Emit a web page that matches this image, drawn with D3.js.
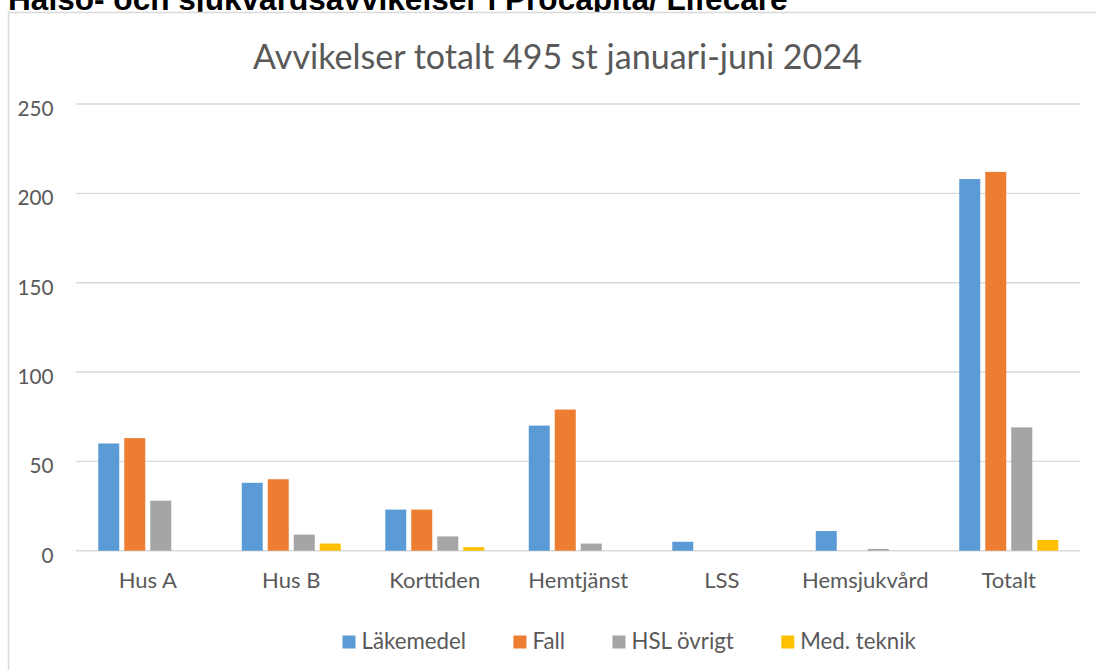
<!DOCTYPE html>
<html>
<head>
<meta charset="utf-8">
<script src="https://cdn.jsdelivr.net/npm/d3@7"></script>
<style>
  html, body { margin: 0; padding: 0; background: #ffffff; }
  svg { display: block; }
</style>
</head>
<body>
<svg id="chart" width="1096" height="670"></svg>
<script>
// ---- Data ----
const categories = ["Hus A", "Hus B", "Korttiden", "Hemtjänst", "LSS", "Hemsjukvård", "Totalt"];
const seriesNames = ["Läkemedel", "Fall", "HSL övrigt", "Med. teknik"];
const lakemedel = [60, 38, 23, 70, 5, 11, 208];
const fall = [63, 40, 23, 79, 0, 0, 212];
const hslOvrigt = [28, 9, 8, 4, 0, 1, 69];
const medTeknik = [0, 4, 2, 0, 0, 0, 6];
const yTicks = [0, 50, 100, 150, 200, 250];
const pageTitle = "Hälso- och sjukvårdsavvikelser i Procapita/ Lifecare";
const chartTitle = "Avvikelser totalt 495 st januari-juni 2024";

const seriesValues = [lakemedel, fall, hslOvrigt, medTeknik];
const colors = ["#5b9bd5", "#ed7d31", "#a5a5a5", "#ffc000"];

const svg = d3.select("#chart");
const FONT = "Lato, 'Open Sans', sans-serif";
const TEXT_COLOR = "#595959";
const GRID_COLOR = "#d9d9d9";

function fitSize(text, family, weight, targetWidth) {
  const t = svg.append("text")
    .attr("font-family", family)
    .attr("font-weight", weight)
    .attr("font-size", 100)
    .text(text);
  const w = t.node().getComputedTextLength();
  t.remove();
  return 100 * targetWidth / w;
}

// Page title (partly hidden behind the chart box)
const ptSize = fitSize(pageTitle, "'Liberation Sans', Arial, sans-serif", "bold", 780);
svg.append("text")
  .attr("x", 8)
  .attr("y", 9.5)
  .attr("font-family", "'Liberation Sans', Arial, sans-serif")
  .attr("font-weight", "bold")
  .attr("font-size", ptSize)
  .attr("fill", "#000")
  .text(pageTitle);

// Chart box
svg.append("rect")
  .attr("x", 8.5).attr("y", 12.5)
  .attr("width", 1200).attr("height", 700)
  .attr("fill", "#ffffff")
  .attr("stroke", GRID_COLOR)
  .attr("stroke-width", 1.5);

// Chart title
const ctSize = fitSize(chartTitle, FONT, "normal", 609);
svg.append("text")
  .attr("x", 557.5)
  .attr("y", 68.5)
  .attr("text-anchor", "middle")
  .attr("font-family", FONT)
  .attr("font-size", ctSize)
  .attr("fill", TEXT_COLOR)
  .text(chartTitle);

// Scales
const plotLeft = 76, plotRight = 1080.5;
const y = d3.scaleLinear().domain([0, 250]).range([550.7, 104]);
const x0 = d3.scaleBand().domain(categories).range([plotLeft, plotRight]).paddingInner(0).paddingOuter(0);
const groupWidth = 99;
const x1 = d3.scaleBand().domain(seriesNames).range([0, groupWidth]).paddingInner(5 / 26).paddingOuter(0);
const groupOffset = (x0.bandwidth() - groupWidth) / 2;

// Gridlines
const grid = svg.append("g");
grid.selectAll("line")
  .data(yTicks)
  .join("line")
  .attr("x1", plotLeft).attr("x2", plotRight)
  .attr("y1", d => y(d)).attr("y2", d => y(d))
  .attr("stroke", GRID_COLOR)
  .attr("stroke-width", 1.4);

// Y tick labels
const tickSize = fitSize("250", FONT, "normal", 36);
svg.append("g").selectAll("text")
  .data(yTicks)
  .join("text")
  .attr("x", 53.5)
  .attr("y", d => y(d) + 12)
  .attr("text-anchor", "end")
  .attr("font-family", FONT)
  .attr("font-size", tickSize)
  .attr("fill", TEXT_COLOR)
  .text(d => d);

// Bars
const rows = [];
categories.forEach((c, ci) => {
  seriesNames.forEach((s, si) => {
    rows.push({ cat: c, series: s, value: seriesValues[si][ci], color: colors[si] });
  });
});
svg.append("g").selectAll("rect")
  .data(rows.filter(d => d.value > 0))
  .join("rect")
  .attr("x", d => x0(d.cat) + groupOffset + x1(d.series))
  .attr("width", x1.bandwidth())
  .attr("y", d => y(d.value))
  .attr("height", d => y(0) - y(d.value))
  .attr("fill", d => d.color);

// Category labels
const catSize = fitSize("Korttiden", FONT, "normal", 91);
svg.append("g").selectAll("text")
  .data(categories)
  .join("text")
  .attr("x", d => x0(d) + x0.bandwidth() / 2)
  .attr("y", 588)
  .attr("text-anchor", "middle")
  .attr("font-family", FONT)
  .attr("font-size", catSize)
  .attr("fill", TEXT_COLOR)
  .text(d => d);

// Legend
const legSize = fitSize("Läkemedel", FONT, "normal", 104.5);
const legend = svg.append("g");
let lx = 342.5;
seriesNames.forEach((s, i) => {
  legend.append("rect")
    .attr("x", lx).attr("y", 635.5)
    .attr("width", 13).attr("height", 13)
    .attr("fill", colors[i]);
  const t = legend.append("text")
    .attr("x", lx + 19)
    .attr("y", 649)
    .attr("font-family", FONT)
    .attr("font-size", legSize)
    .attr("fill", TEXT_COLOR)
    .text(s);
  lx += 19 + t.node().getComputedTextLength() + 47.5;
});
</script>
</body>
</html>
